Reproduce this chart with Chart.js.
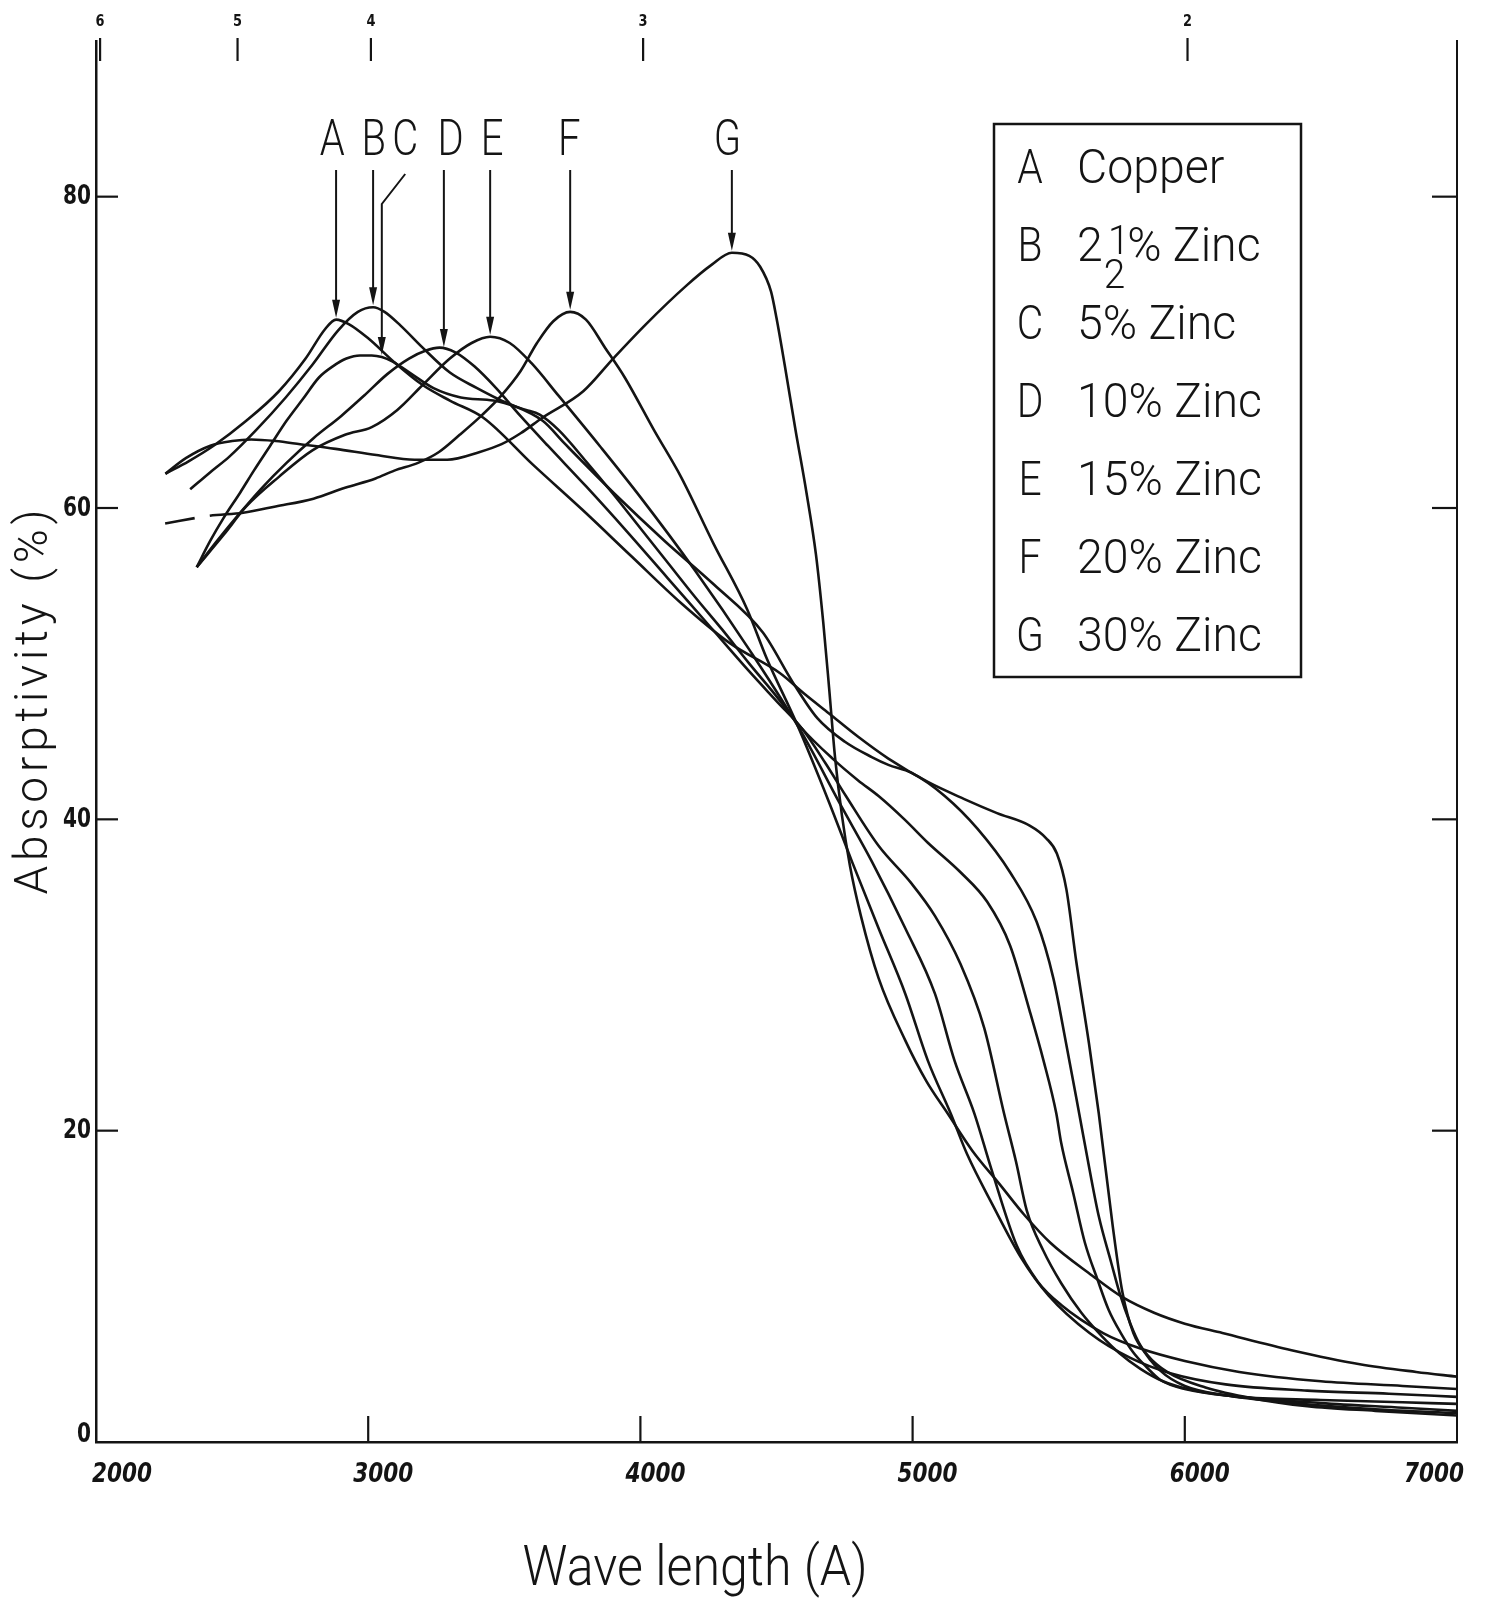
<!DOCTYPE html>
<html lang="en">
<head>
<meta charset="utf-8">
<title>Absorptivity of copper-zinc alloys</title>
<script src="https://cdn.jsdelivr.net/npm/chart.js@4.4.1/dist/chart.umd.min.js"></script>
<style>
    html, body { margin: 0; padding: 0; background: #ffffff; }
    #chart-box { position: relative; width: 1495px; height: 1598px; }
</style>
</head>
<body>
<div id="chart-box"><canvas id="mainChart" width="1495" height="1598"></canvas></div>
<script>
// values: wavelength (A) and absorptivity (%)
const waveA = [2255, 2340, 2432, 2552, 2672, 2770, 2842, 2882, 2930, 3000, 3100, 3200, 3300, 3423, 3604, 3786, 3967, 4149, 4330, 4512, 4600, 4693, 4800, 4911, 5056, 5190, 5310, 5430, 5490, 5530, 5565, 5601, 5648, 5684, 5735, 5771, 5811, 5862, 5935, 6076, 6250, 6450, 6700, 7000];
const absA  = [62.2, 63.0, 64.0, 65.6, 67.5, 69.6, 71.5, 72.1, 71.8, 70.9, 69.3, 67.9, 66.9, 65.8, 62.8, 59.9, 56.9, 53.9, 51.3, 49.4, 48.1, 46.8, 45.3, 43.9, 42.4, 41.3, 40.4, 39.6, 38.8, 37.8, 35.5, 30.9, 25.6, 21.1, 13.9, 9.6, 7.0, 5.6, 4.5, 3.5, 2.8, 2.3, 2.0, 1.7];

const waveB = [2346, 2420, 2490, 2588, 2697, 2795, 2889, 2962, 3018, 3060, 3120, 3200, 3300, 3400, 3477, 3641, 3724, 3906, 4088, 4269, 4450, 4560, 4650, 4750, 4850, 4911, 4995, 5118, 5238, 5358, 5456, 5517, 5564, 5612, 5650, 5684, 5730, 5760, 5800, 5837, 5909, 6000, 6150, 6400, 6700, 7000];
const absB  = [61.2, 62.3, 63.3, 65.0, 67.1, 69.2, 71.4, 72.6, 72.9, 72.6, 71.7, 70.3, 68.7, 67.7, 67.0, 65.6, 64.1, 60.9, 57.9, 55.1, 52.0, 48.8, 46.5, 45.0, 44.0, 43.5, 43.0, 41.5, 39.4, 36.6, 33.4, 29.8, 25.6, 21.1, 17.5, 14.5, 11.5, 9.6, 7.6, 6.2, 4.6, 3.6, 3.0, 2.5, 2.1, 1.85];

const waveC = [2370, 2420, 2470, 2530, 2580, 2640, 2700, 2760, 2820, 2870, 2920, 2970, 3013, 3050, 3090, 3160, 3240, 3340, 3460, 3580, 3630, 3700, 3800, 3900, 4000, 4100, 4200, 4300, 4400, 4500, 4590, 4706, 4800, 4875, 4970, 5056, 5176, 5274, 5358, 5430, 5481, 5528, 5546, 5590, 5633, 5680, 5720, 5765, 5811, 5860, 5909, 6000, 6200, 6500, 6800, 7000];
const absC  = [56.2, 57.9, 59.4, 61.0, 62.4, 64.0, 65.6, 67.0, 68.4, 69.1, 69.6, 69.8, 69.8, 69.7, 69.4, 68.6, 67.7, 67.1, 66.9, 66.3, 66.0, 65.0, 63.0, 60.9, 58.7, 56.5, 54.3, 52.2, 50.0, 47.9, 45.9, 43.9, 42.5, 41.5, 40.0, 38.5, 36.6, 34.7, 31.9, 27.7, 24.5, 21.1, 19.2, 16.0, 12.8, 10.4, 8.5, 7.0, 5.75, 4.8, 4.0, 3.4, 2.9, 2.5, 2.2, 2.0];

const waveD = [2370, 2450, 2530, 2610, 2700, 2800, 2900, 2990, 3070, 3150, 3210, 3262, 3320, 3390, 3470, 3560, 3660, 3800, 3950, 4100, 4250, 4400, 4500, 4595, 4680, 4755, 4875, 4995, 5082, 5176, 5263, 5336, 5380, 5419, 5480, 5546, 5620, 5695, 5760, 5837, 5920, 6011, 6200, 6500, 6800, 7000];
const absD  = [56.2, 58.0, 59.7, 61.3, 62.9, 64.5, 65.9, 67.3, 68.6, 69.6, 70.1, 70.3, 70.0, 69.1, 67.7, 65.9, 64.0, 61.4, 58.5, 55.5, 52.5, 49.5, 47.6, 45.8, 43.6, 41.5, 38.3, 35.9, 33.8, 30.7, 26.6, 21.1, 18.0, 14.9, 12.3, 10.2, 8.3, 6.8, 5.7, 4.7, 3.9, 3.4, 2.9, 2.7, 2.55, 2.45];

const waveE = [2370, 2470, 2552, 2672, 2795, 2915, 3013, 3107, 3200, 3300, 3380, 3448, 3520, 3600, 3700, 3850, 4000, 4200, 4400, 4595, 4730, 4850, 4973, 5082, 5154, 5227, 5290, 5383, 5460, 5546, 5700, 5837, 6000, 6200, 6500, 6800, 7000];
const absE  = [56.2, 58.3, 60.1, 62.0, 63.7, 64.7, 65.2, 66.3, 67.9, 69.6, 70.6, 71.0, 70.6, 69.3, 67.2, 64.0, 60.7, 56.0, 50.9, 45.5, 41.1, 37.3, 33.0, 28.8, 24.5, 21.1, 17.5, 12.6, 10.3, 8.8, 7.0, 6.0, 5.2, 4.5, 3.9, 3.6, 3.4];

const waveF = [2254, 2418, 2541, 2660, 2799, 2915, 3027, 3096, 3183, 3260, 3336, 3420, 3488, 3560, 3620, 3680, 3742, 3800, 3870, 3942, 4050, 4149, 4269, 4392, 4465, 4573, 4693, 4777, 4875, 4973, 5056, 5140, 5200, 5292, 5400, 5500, 5650, 5800, 5950, 6150, 6450, 6750, 7000];
const absF  = [59.0, 59.5, 59.7, 60.1, 60.6, 61.3, 61.9, 62.4, 62.9, 63.6, 64.7, 66.0, 67.2, 68.8, 70.6, 72.0, 72.6, 72.1, 70.3, 68.4, 65.0, 62.0, 57.7, 53.5, 50.3, 46.2, 41.1, 37.3, 33.0, 28.8, 24.5, 21.1, 18.5, 15.3, 11.8, 9.4, 7.0, 5.4, 4.4, 3.7, 3.3, 3.1, 2.9];

const waveG = [2255, 2330, 2420, 2500, 2570, 2660, 2750, 2880, 3030, 3170, 3290, 3410, 3490, 3560, 3640, 3790, 3900, 4020, 4170, 4260, 4336, 4400, 4440, 4480, 4500, 4530, 4570, 4610, 4645, 4672, 4693, 4715, 4740, 4770, 4810, 4875, 4973, 5050, 5129, 5220, 5318, 5410, 5506, 5659, 5771, 5887, 6000, 6138, 6392, 6643, 6850, 7000];
const absG  = [62.2, 63.2, 64.0, 64.3, 64.4, 64.3, 64.1, 63.8, 63.4, 63.1, 63.1, 63.6, 64.1, 64.8, 65.8, 67.5, 69.6, 71.8, 74.3, 75.6, 76.4, 76.2, 75.5, 73.9, 72.2, 69.2, 65.0, 61.0, 57.0, 52.6, 48.5, 44.0, 40.3, 37.0, 33.8, 29.8, 25.8, 23.2, 21.1, 18.7, 16.6, 14.6, 12.8, 10.7, 9.3, 8.3, 7.6, 7.0, 5.9, 5.0, 4.5, 4.2];

const curveLetters = ['A', 'B', 'C', 'D', 'E', 'F', 'G'];
const curveNames = ['Copper', '2½% Zinc', '5% Zinc', '10% Zinc', '15% Zinc', '20% Zinc', '30% Zinc'];
const letterWaves = [2868, 3020, 3136, 3303, 3455, 3739, 4320];
const arrowWaves = [2882, 3018, 3050, 3278, 3448, 3742, 4336];

const xTickValues = [3000, 4000, 5000, 6000];
const xLabelValues = [2000, 3000, 4000, 5000, 6000, 7000];
const yTickValues = [20, 40, 60, 80];
const yLabelValues = [0, 20, 40, 60, 80];
const topTickWaves = [2015, 2520, 3010, 4010, 6010];
const topTickLabels = ['6', '5', '4', '3', '2'];

const allWaves = [waveA, waveB, waveC, waveD, waveE, waveF, waveG];
const allAbs = [absA, absB, absC, absD, absE, absF, absG];

const ink = '#141414';
const handFont = '"Roboto", "DejaVu Sans", sans-serif';

function seg(ctx, x0, y0, x1, y1) {
    ctx.beginPath();
    ctx.moveTo(x0, y0);
    ctx.lineTo(x1, y1);
    ctx.stroke();
}

// squeeze or spread a string so it spans the given width
function fitText(ctx, str, x, y, width, align) {
    ctx.save();
    ctx.textAlign = 'left';
    const w = ctx.measureText(str).width;
    const left = align === 'center' ? x - width / 2 : (align === 'right' ? x - width : x);
    ctx.translate(left, y);
    if (w >= width || str.length < 2) {
        ctx.scale(width / w, 1);
    } else {
        ctx.letterSpacing = ((width - w) / (str.length - 1)).toFixed(2) + 'px';
    }
    ctx.fillText(str, 0, 0);
    ctx.restore();
}

function valueAt(waves, vals, w) {
    for (let i = 1; i < waves.length; i++) {
        if (w <= waves[i]) {
            const t = (w - waves[i - 1]) / (waves[i] - waves[i - 1]);
            return vals[i - 1] + t * (vals[i] - vals[i - 1]);
        }
    }
    return vals[vals.length - 1];
}

function drawArrow(ctx, fromX, topY, x, tipY) {
    const head = 18, half = 4;
    ctx.beginPath();
    ctx.moveTo(fromX, topY);
    if (Math.abs(fromX - x) > 1) ctx.lineTo(x, topY + 30);
    ctx.lineTo(x, tipY - head + 2);
    ctx.stroke();
    ctx.beginPath();
    ctx.moveTo(x - half, tipY - head);
    ctx.lineTo(x + half, tipY - head);
    ctx.lineTo(x, tipY);
    ctx.closePath();
    ctx.fill();
}

function drawLegendName(ctx, name, x, y, sx) {
    ctx.save();
    ctx.translate(x, y);
    ctx.scale(sx, 1);
    if (name.indexOf('½') > 0) {
        // whole part, stacked fraction, then the rest
        const [whole, rest] = name.split('½');
        ctx.fillText(whole, 0, 0);
        let cx = ctx.measureText(whole).width + 1;
        const big = ctx.font;
        ctx.font = '300 40px ' + handFont;
        const fw = ctx.measureText('2').width;
        ctx.fillText('1', cx + fw * 0.2, -7);
        ctx.fillText('2', cx, 27);
        ctx.font = big;
        ctx.fillText(rest, cx + fw + 2, 0);
    } else {
        ctx.fillText(name, 0, 0);
    }
    ctx.restore();
}

const paperPlugin = {
    id: 'paper',
    afterDraw(chart) {
        const ctx = chart.ctx;
        const area = chart.chartArea;
        const xs = chart.scales.x;
        const ys = chart.scales.y;
        ctx.save();
        ctx.strokeStyle = ink;
        ctx.fillStyle = ink;
        ctx.lineWidth = 2.2;

        // ticks pointing into the plot
        yTickValues.forEach(v => {
            const y = ys.getPixelForValue(v);
            seg(ctx, area.left, y, area.left + 22, y);
            seg(ctx, area.right - 25, y, area.right, y);
        });
        xTickValues.forEach(v => {
            const x = xs.getPixelForValue(v);
            seg(ctx, x, area.bottom, x, area.bottom - 26);
        });
        topTickWaves.forEach(w => {
            const x = xs.getPixelForValue(w);
            seg(ctx, x, area.top - 3, x, area.top + 20);
        });

        // tick labels
        ctx.textBaseline = 'middle';
        ctx.font = 'bold 26px "DejaVu Sans", sans-serif';
        yLabelValues.forEach(v => {
            const s = String(v);
            const y = Math.min(ys.getPixelForValue(v) + 1, area.bottom - 7);
            fitText(ctx, s, area.left - 5, y, s.length * 14, 'right');
        });
        ctx.font = 'bold 15px "DejaVu Sans", sans-serif';
        topTickWaves.forEach((w, i) => {
            fitText(ctx, topTickLabels[i], xs.getPixelForValue(w), area.top - 19, 9, 'center');
        });

        ctx.textBaseline = 'alphabetic';
        ctx.font = 'italic bold 26px "DejaVu Sans", sans-serif';
        xLabelValues.forEach((v, i) => {
            const x = xs.getPixelForValue(v);
            const s = String(v);
            if (i === 0) fitText(ctx, s, x - 4, area.bottom + 40, 60, 'left');
            else if (i === xLabelValues.length - 1) fitText(ctx, s, x + 7, area.bottom + 40, 60, 'right');
            else fitText(ctx, s, x + 15, area.bottom + 40, 60, 'center');
        });

        // axis titles
        ctx.font = '300 46px ' + handFont;
        ctx.save();
        ctx.translate(47, 702);
        ctx.rotate(-Math.PI / 2);
        fitText(ctx, 'Absorptivity (%)', 0, 0, 385, 'center');
        ctx.restore();
        ctx.font = '300 56px ' + handFont;
        fitText(ctx, 'Wave length (A)', 695, 1585, 345, 'center');

        // curve letters with arrows down to the peaks
        ctx.font = '300 50px ' + handFont;
        ctx.textAlign = 'center';
        ctx.lineWidth = 2;
        curveLetters.forEach((letter, i) => {
            const lx = xs.getPixelForValue(letterWaves[i]);
            ctx.save();
            ctx.translate(lx, 155);
            ctx.scale(0.8, 1);
            ctx.fillText(letter, 0, 0);
            ctx.restore();
            const ax = xs.getPixelForValue(arrowWaves[i]);
            const tip = ys.getPixelForValue(valueAt(allWaves[i], allAbs[i], arrowWaves[i])) - 2;
            const fromX = Math.abs(lx - ax) > 12 ? lx : ax;
            drawArrow(ctx, fromX, Math.abs(lx - ax) > 12 ? 174 : 170, ax, tip);
        });

        // legend box
        ctx.lineWidth = 2.5;
        ctx.strokeRect(994, 124, 307, 553);
        ctx.font = '300 48px ' + handFont;
        ctx.textAlign = 'left';
        const sx = 185 / ctx.measureText('10% Zinc').width;
        curveLetters.forEach((letter, i) => {
            const base = 183 + i * 78;
            ctx.save();
            ctx.translate(1030, base);
            ctx.scale(0.85, 1);
            ctx.textAlign = 'center';
            ctx.fillText(letter, 0, 0);
            ctx.restore();
            drawLegendName(ctx, curveNames[i], 1077, base, sx);
        });
        ctx.restore();
    }
};

const datasets = allWaves.map((waves, i) => ({
    label: curveLetters[i] + ' ' + curveNames[i],
    data: waves.map((w, j) => ({ x: w, y: allAbs[i][j] })),
    borderColor: ink,
    borderWidth: 2.6,
    pointRadius: 0,
    fill: false,
    cubicInterpolationMode: 'monotone',
    // the 20% curve starts with a dashed stroke
    segment: i === 5 ? { borderDash: c => (c.p0DataIndex === 0 ? [30, 16] : undefined) } : undefined
}));

new Chart(document.getElementById('mainChart'), {
    type: 'line',
    data: { datasets: datasets },
    options: {
        responsive: false,
        devicePixelRatio: 1,
        animation: false,
        events: [],
        layout: { padding: { left: 88, right: 30, top: 41, bottom: 148 } },
        plugins: { legend: { display: false }, tooltip: { enabled: false } },
        scales: {
            x: {
                type: 'linear', position: 'bottom', min: 2000, max: 7000,
                grid: { display: false }, ticks: { display: false },
                border: { display: true, color: ink, width: 2.5 }
            },
            y: {
                type: 'linear', position: 'left', min: 0, max: 90,
                grid: { display: false }, ticks: { display: false },
                border: { display: true, color: ink, width: 2.5 }
            },
            y2: {
                type: 'linear', position: 'right', min: 0, max: 90,
                grid: { display: false }, ticks: { display: false },
                border: { display: true, color: ink, width: 2, dash: [70, 14] }
            }
        }
    },
    plugins: [paperPlugin]
});
</script>
</body>
</html>
